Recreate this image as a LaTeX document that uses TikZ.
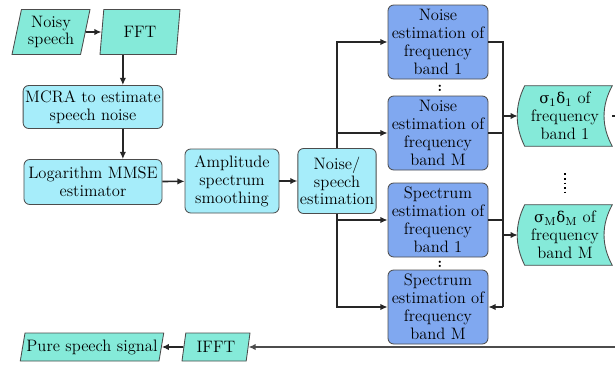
\documentclass[tikz,border=0pt]{standalone}
\usepackage{fontspec}
\newfontfamily\greekfont{DejaVu Serif}
\usetikzlibrary{arrows.meta,positioning,shapes.geometric,calc,backgrounds}
\definecolor{paragreen}{RGB}{133,234,217}
\definecolor{procyan}{RGB}{166,237,250}
\definecolor{bandblue}{RGB}{128,168,240}
\newcommand{\gk}[1]{{\greekfont\fontsize{10.4}{12}\selectfont #1}}

\begin{document}
\begin{tikzpicture}[x=0.7pt, y=-0.7pt,
  font=\fontsize{11.6}{12.5}\selectfont,
  io/.style={trapezium, trapezium left angle=75, trapezium right angle=105, trapezium stretches body,
    draw=black!70, line width=0.6pt, fill=paragreen, align=center, inner sep=1pt, minimum height=31.5pt},
  proc/.style={draw=black!70, line width=0.6pt, fill=procyan, rounded corners=4pt, align=center, inner sep=1.5pt},
  band/.style={draw=black!70, line width=0.6pt, fill=bandblue, rounded corners=4pt, align=center, inner sep=1pt,
    minimum width=70pt, minimum height=51.8pt},
  store/.style={align=center, inner sep=1pt, minimum width=65.8pt, minimum height=42pt},
  gap/.style={inner sep=0pt, font=\bfseries\fontsize{10}{10}\selectfont},
  arr/.style={-{Latex[length=5pt,width=4.5pt]}, line width=1.1pt, black!85},
  bus/.style={line width=1.1pt, black!85}]
\useasboundingbox (0,0) rectangle (615,367);
% input chain
\node[io, minimum width=54.6pt] (noisy) at (51,32) {Noisy\\speech};
\node[io, minimum width=56pt] (fft) at (140,32) {FFT};
\node[proc, minimum width=95.9pt, minimum height=30.1pt] (mcra) at (93,107) {MCRA to estimate\\speech noise};
\node[proc, minimum width=96.6pt, minimum height=31.5pt] (logm) at (93,182) {Logarithm MMSE\\estimator};
\node[proc, minimum width=65.8pt, minimum height=44.8pt] (amp) at (232,181) {Amplitude\\spectrum\\smoothing};
\node[proc, minimum width=54.6pt, minimum height=45.5pt] (nse) at (337,181) {Noise/\\speech\\estimation};
% frequency bands
\node[band] (nb1) at (438,42) {Noise\\estimation of\\frequency\\band 1};
\node[gap] (dotsA) at (440,88) {:};
\node[band] (nbM) at (438,133) {Noise\\estimation of\\frequency\\band M};
\node[band] (sb1) at (438,220) {Spectrum\\estimation of\\frequency\\band 1};
\node[gap] (dotsB) at (440,264) {:};
\node[band] (sbM) at (438,307) {Spectrum\\estimation of\\frequency\\band M};
% weights
\node[store] (s1) at (565,116) {\gk{σ}\textsubscript{1}\gk{δ}\textsubscript{1} of\\frequency\\band 1};
\node[store] (sM) at (565,235) {\gk{σ}\textsubscript{M}\gk{δ}\textsubscript{M} of\\frequency\\band M};
\begin{scope}[on background layer]
\foreach \s in {s1,sM}
  \filldraw[draw=black!70, line width=0.6pt, fill=paragreen]
    ($(\s.north west)+(7,0)$) -- (\s.north east) .. controls +(-11,20) and +(-11,-20) .. (\s.south east)
    -- ($(\s.south west)+(7,0)$) .. controls +(-10,-20) and +(-10,20) .. ($(\s.north west)+(7,0)$) -- cycle;
\end{scope}
\draw[dotted, line width=1.2pt] ([yshift=-19pt]s1.south) -- ([yshift=8pt]sM.north);
% output
\node[io, minimum width=99.4pt, minimum height=19.6pt] (pure) at (92,347) {Pure speech signal};
\node[io, minimum width=47.6pt, minimum height=19.6pt] (ifft) at (216,347) {IFFT};
\coordinate (busR) at (503,0);
\coordinate (rim) at (615,0);

\draw[arr] (noisy) -- (fft);
\draw[arr] ([xshift=-12pt]fft.south) -- ([xshift=-12pt]fft.south |- mcra.north);
\draw[arr] ([xshift=-12pt]fft.south |- mcra.south) -- ([xshift=-12pt]fft.south |- logm.north);
\draw[arr] (logm) -- (amp); \draw[arr] (amp) -- (nse);
\draw[arr] (nse.north) |- (nb1.west); \draw[arr] (nse.north) |- (nbM.west);
\draw[arr] (nse.south) |- (sb1.west); \draw[arr] (nse.south) |- (sbM.west);
\draw[bus] (nb1.east) -- (nb1.east -| busR) -- (sbM.east -| busR);
\draw[bus] (nbM.east) -- (nbM.east -| busR); \draw[bus] (sb1.east) -- (sb1.east -| busR);
\draw[arr] (sbM.east -| busR) -- (sbM.east);
\draw[arr] (s1.west -| busR) -- (s1.west); \draw[arr] (sM.west -| busR) -- (sM.west);
\draw[bus] (s1.east) -- (s1.east -| rim);
\draw[arr, line width=1.6pt, black!70] (ifft.east -| rim) -- (ifft.east);
\draw[arr] (ifft) -- (pure);
\end{tikzpicture}
\end{document}
